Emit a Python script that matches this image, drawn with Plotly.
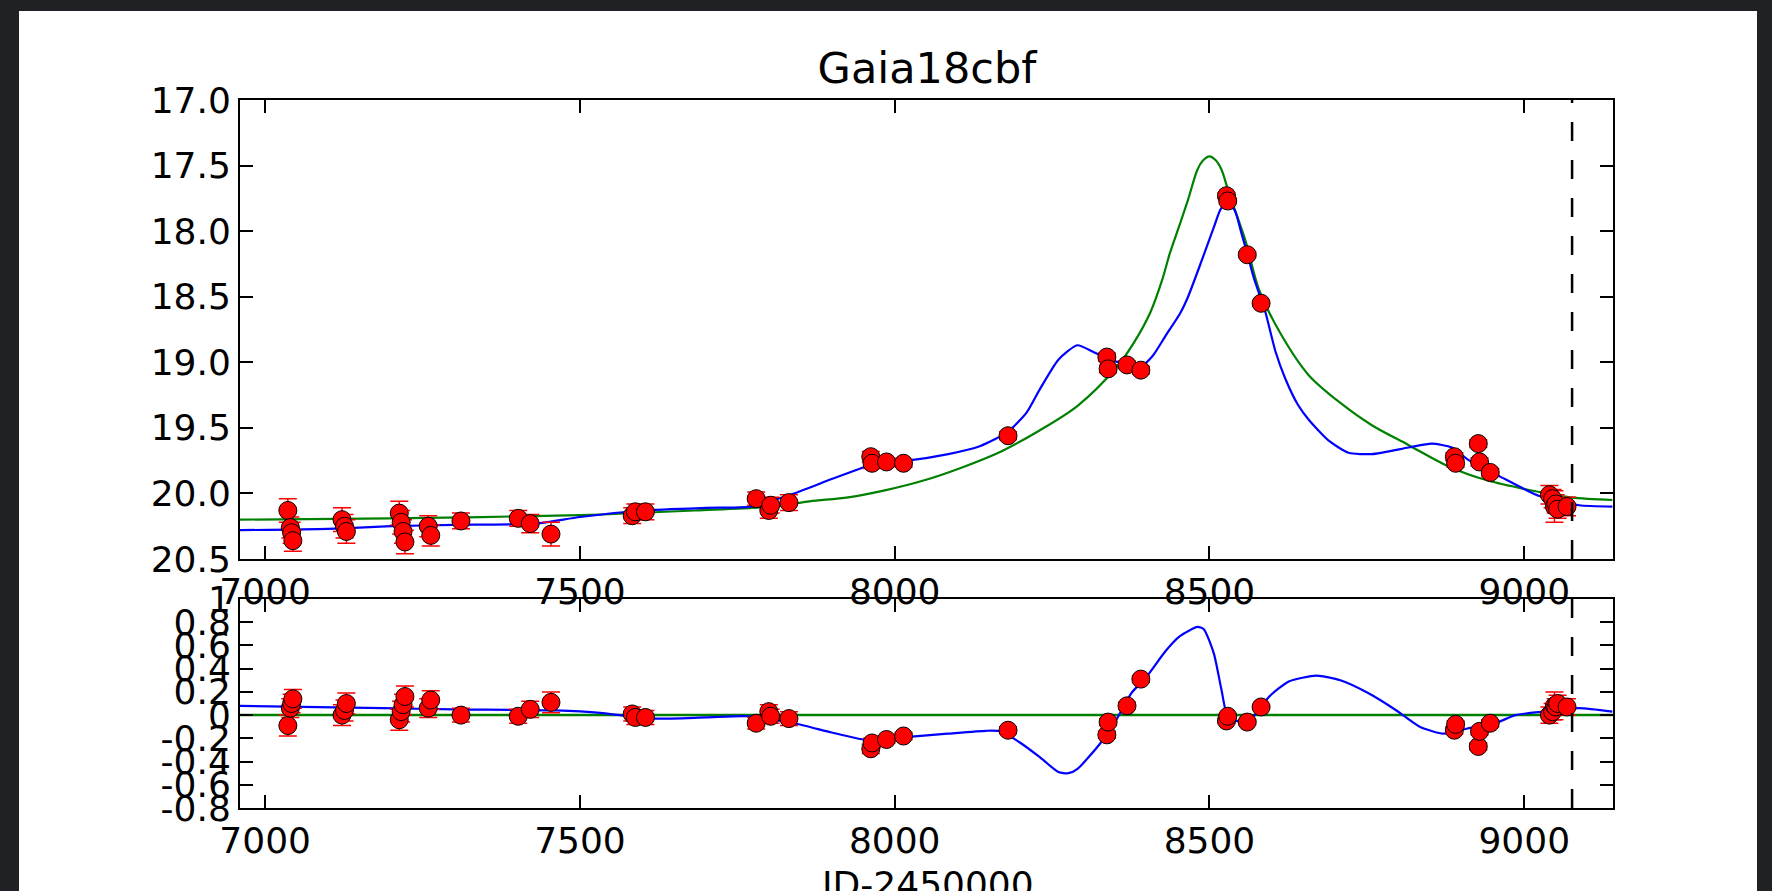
import plotly.graph_objects as go

# ---------------- data ----------------
obs_t = [7036, 7040, 7042, 7044, 7122, 7126, 7129, 7213, 7216, 7219, 7222, 7259, 7263,
         7311, 7402, 7421, 7454, 7583, 7588, 7604, 7780, 7800, 7803, 7832,
         7962, 7964, 7987, 8014, 8180, 8337, 8339, 8369, 8391,
         8527, 8529, 8560, 8582, 8889, 8891, 8927, 8929, 8946,
         9040, 9045, 9048, 9050, 9053, 9068]
obs_mag = [20.13, 20.26, 20.30, 20.36, 20.20, 20.25, 20.29, 20.15, 20.22, 20.29, 20.37, 20.25, 20.32,
           20.21, 20.19, 20.23, 20.31, 20.17, 20.14, 20.14, 20.04, 20.13, 20.09, 20.07,
           19.72, 19.77, 19.76, 19.77, 19.56, 18.96, 19.05, 19.02, 19.06,
           17.73, 17.77, 18.18, 18.55, 19.72, 19.77, 19.62, 19.76, 19.84,
           20.01, 20.04, 20.10, 20.08, 20.12, 20.10]
obs_err = [0.09, 0.08, 0.08, 0.08, 0.09, 0.09, 0.09, 0.09, 0.09, 0.09, 0.09, 0.08, 0.08,
           0.06, 0.06, 0.07, 0.09, 0.06, 0.06, 0.06, 0.05, 0.06, 0.06, 0.06,
           0.04, 0.04, 0.03, 0.03, 0.03, 0.03, 0.03, 0.03, 0.03,
           0.02, 0.02, 0.02, 0.02, 0.03, 0.03, 0.03, 0.03, 0.03,
           0.07, 0.07, 0.12, 0.07, 0.07, 0.07]
obs_resid = [-0.09, 0.06, 0.10, 0.14, 0.00, 0.04, 0.10, -0.04, 0.03, 0.09, 0.16, 0.06, 0.13,
             0.00, -0.01, 0.05, 0.11, 0.01, -0.02, -0.02, -0.07, 0.03, -0.01, -0.03,
             -0.29, -0.24, -0.21, -0.18, -0.13, -0.17, -0.06, 0.08, 0.31,
             -0.05, -0.01, -0.06, 0.07, -0.13, -0.08, -0.27, -0.14, -0.07,
             0.00, 0.03, 0.08, 0.07, 0.10, 0.07]

blue_t = [6960, 7100, 7200, 7300, 7430, 7500, 7600, 7700, 7770, 7840, 7900, 7940, 7970,
          8020, 8085, 8135, 8180, 8210, 8230, 8260, 8290, 8315, 8340, 8370, 8394, 8410,
          8430, 8453, 8466, 8488, 8507, 8518, 8528, 8540, 8551, 8560, 8570, 8582, 8589,
          8605, 8620, 8640, 8658, 8690, 8721, 8758, 8816, 8853, 8885, 8910, 8961, 9024,
          9087, 9140]
blue_mag = [20.28, 20.27, 20.25, 20.24, 20.23, 20.18, 20.13, 20.11, 20.10, 20.00, 19.89, 19.82, 19.77,
            19.75, 19.70, 19.64, 19.53, 19.38, 19.21, 18.98, 18.87, 18.92, 18.98, 19.01, 19.02, 18.95,
            18.80, 18.63, 18.50, 18.22, 17.97, 17.83, 17.79, 17.84, 18.02, 18.17, 18.35, 18.52, 18.62,
            18.92, 19.12, 19.32, 19.44, 19.60, 19.69, 19.70, 19.65, 19.62, 19.65, 19.74, 19.87, 20.02,
            20.09, 20.10]

green_t = [6960, 7200, 7500, 7683, 7804, 7865, 7926, 7986, 8047, 8108, 8169, 8230, 8291,
           8352, 8380, 8406, 8425, 8437, 8452, 8466, 8481, 8490, 8500, 8510, 8519, 8531,
           8557, 8579, 8614, 8658, 8708, 8758, 8816, 8878, 8941, 9004, 9074, 9140]
green_mag = [20.20, 20.19, 20.165, 20.13, 20.10, 20.06, 20.03, 19.975, 19.90, 19.80, 19.68, 19.52, 19.33,
             19.04, 18.85, 18.62, 18.37, 18.17, 17.96, 17.76, 17.53, 17.46, 17.43, 17.46, 17.53, 17.71,
             18.07, 18.45, 18.79, 19.10, 19.31, 19.48, 19.63, 19.79, 19.90, 19.97, 20.03, 20.05]

resid_t = [6960, 7187, 7300, 7461, 7532, 7610, 7700, 7767, 7840, 7900, 7950, 7980, 8017,
           8084, 8145, 8169, 8200, 8230, 8260, 8276, 8291, 8327, 8352, 8376, 8400, 8430,
           8453, 8481, 8491, 8507, 8519, 8529, 8551, 8570, 8595, 8626, 8670, 8708, 8752,
           8797, 8834, 8872, 8910, 8954, 8986, 9030, 9087, 9140]
resid_blue = [0.08, 0.06, 0.05, 0.04, 0.02, -0.03, -0.02, -0.01, -0.07, -0.15, -0.21, -0.21, -0.19,
              -0.16, -0.135, -0.14, -0.24, -0.36, -0.49, -0.50, -0.46, -0.24, -0.04, 0.19, 0.33, 0.55,
              0.68, 0.76, 0.74, 0.53, 0.22, -0.01, -0.06, -0.01, 0.16, 0.29, 0.34, 0.30, 0.19,
              0.04, -0.10, -0.16, -0.115, -0.07, 0.0, 0.03, 0.06, 0.03]
resid_green_t = [6960, 9141]
resid_green = [0.0, 0.0]

t_now = 9076
x_range = [6960, 9141]
mag_ticks = [17.0, 17.5, 18.0, 18.5, 19.0, 19.5, 20.0, 20.5]
mag_ticktext = ["17.0", "17.5", "18.0", "18.5", "19.0", "19.5", "20.0", "20.5"]
res_ticks = [-0.8, -0.6, -0.4, -0.2, 0.0, 0.2, 0.4, 0.6, 0.8, 1.0]
res_ticktext = ["-0.8", "-0.6", "-0.4", "-0.2", "0", "0.2", "0.4", "0.6", "0.8", "1"]
x_ticks = [7000, 7500, 8000, 8500, 9000]
title_text = "Gaia18cbf"
xlabel_text = "JD-2450000"

# ---------------- figure ----------------
W, H = 1772, 891
FONT = "DejaVu Sans"
TICK = 36

def px(x):
    return x / W

def py(y):
    return 1 - y / H

fig = go.Figure()

# top panel
fig.add_trace(go.Scatter(x=green_t, y=green_mag, mode="lines", line=dict(color="#008000", width=2.2, shape="spline", smoothing=0.9),
                         xaxis="x", yaxis="y", showlegend=False, hoverinfo="skip"))
fig.add_trace(go.Scatter(x=blue_t, y=blue_mag, mode="lines", line=dict(color="#0000ff", width=2.2, shape="spline", smoothing=0.6),
                         xaxis="x", yaxis="y", showlegend=False, hoverinfo="skip"))
fig.add_trace(go.Scatter(x=obs_t, y=obs_mag, mode="markers",
                         error_y=dict(type="data", array=obs_err, visible=True, color="#ff0000", thickness=1.5, width=9),
                         marker=dict(color="#ff0000", size=18, line=dict(color="black", width=1)),
                         xaxis="x", yaxis="y", showlegend=False))

# bottom panel
fig.add_trace(go.Scatter(x=resid_green_t, y=resid_green, mode="lines", line=dict(color="#008000", width=2.5),
                         xaxis="x2", yaxis="y2", showlegend=False, hoverinfo="skip"))
fig.add_trace(go.Scatter(x=resid_t, y=resid_blue, mode="lines", line=dict(color="#0000ff", width=2.2, shape="spline", smoothing=0.6),
                         xaxis="x2", yaxis="y2", showlegend=False, hoverinfo="skip"))
fig.add_trace(go.Scatter(x=obs_t, y=obs_resid, mode="markers",
                         error_y=dict(type="data", array=obs_err, visible=True, color="#ff0000", thickness=1.5, width=9),
                         marker=dict(color="#ff0000", size=18, line=dict(color="black", width=1)),
                         xaxis="x2", yaxis="y2", showlegend=False))

xdom = [px(240), px(1613)]
axis_common = dict(showline=True, linecolor="black", linewidth=2, mirror="ticks", ticks="inside",
                   ticklen=13, tickwidth=1.5, tickcolor="black", showgrid=False, zeroline=False,
                   automargin=False, tickfont=dict(family=FONT, size=TICK, color="black"))

fig.update_layout(
    width=W, height=H,
    margin=dict(l=0, r=0, t=0, b=0, pad=0, autoexpand=False),
    paper_bgcolor="#202124",
    plot_bgcolor="white",
    font=dict(family=FONT, color="black"),
    title=dict(text=title_text, x=px(927), xanchor="center", y=py(68), yanchor="middle",
               xref="paper", yref="container", automargin=False,
               font=dict(family=FONT, size=43, color="black")),
    xaxis=dict(domain=xdom, range=x_range, anchor="y", tickvals=x_ticks, **axis_common),
    yaxis=dict(domain=[py(559), py(100)], range=[20.5, 17.0], anchor="x", tickvals=mag_ticks,
               ticktext=mag_ticktext, **axis_common),
    xaxis2=dict(domain=xdom, range=x_range, anchor="y2", tickvals=x_ticks, matches="x", **axis_common),
    yaxis2=dict(domain=[py(808), py(599)], range=[-0.8, 1.0], anchor="x2", tickvals=res_ticks,
                ticktext=res_ticktext, **axis_common),
    shapes=[
        dict(type="rect", xref="paper", yref="paper", x0=px(19), x1=px(1757), y0=-0.01, y1=py(11),
             fillcolor="white", line=dict(width=0), layer="below"),
        dict(type="line", xref="x", yref="y domain", x0=t_now, x1=t_now, y0=0, y1=1,
             line=dict(color="black", width=2.5, dash="19px,19px")),
        dict(type="line", xref="x2", yref="y2 domain", x0=t_now, x1=t_now, y0=0, y1=1,
             line=dict(color="black", width=2.5, dash="19px,19px")),
    ],
    annotations=[
        dict(text=xlabel_text, x=px(927), y=py(862), xref="paper", yref="paper", xanchor="center",
             yanchor="top", showarrow=False, font=dict(family=FONT, size=TICK, color="black")),
    ],
)

fig.write_html("out.html")
